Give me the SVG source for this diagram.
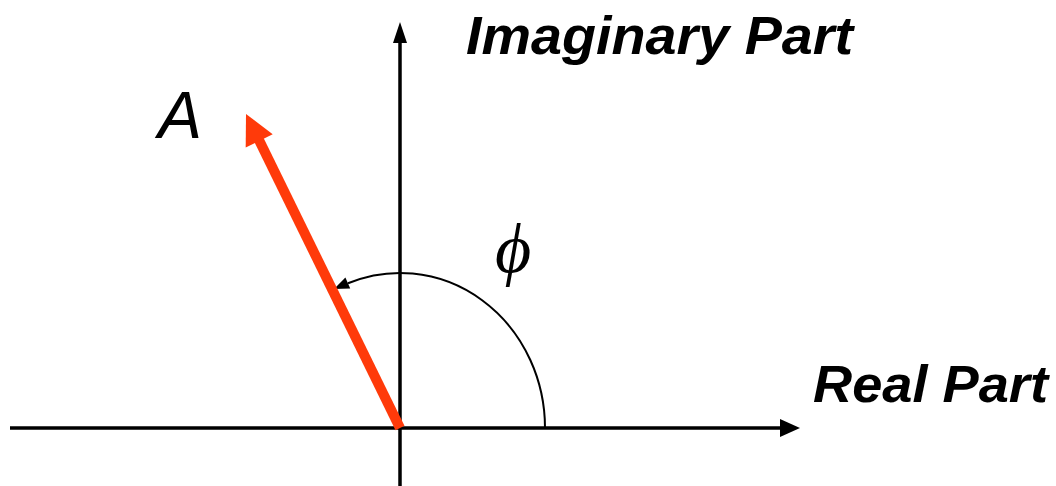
<svg xmlns="http://www.w3.org/2000/svg" width="1056" height="486" viewBox="0 0 1056 486">
<style>
.axis{stroke:#000;stroke-width:3.5;fill:none}
.head{fill:#000}
.lbl{font-family:"Liberation Sans",Arial,sans-serif;font-style:italic;font-weight:bold;fill:#000}
.vec{stroke:#FF3A0A;stroke-width:10;fill:none}
</style>
<rect width="1056" height="486" fill="#fff"/>
<g id="connectors">
  <line class="axis" x1="10" y1="428" x2="783" y2="428"/>
  <polygon class="head" points="800,428 780,419 780,437"/>
  <line class="axis" x1="400" y1="486" x2="400" y2="40"/>
  <polygon class="head" points="400,22 393,43 407,43"/>
  <path d="M545,428 A145,155 0 0 0 348,283.3" fill="none" stroke="#000" stroke-width="2"/>
  <polygon class="head" points="334,289 350.2,288.5 345.4,277.5"/>
  <line class="vec" x1="400" y1="428" x2="258" y2="138"/>
  <polygon fill="#FF3A0A" points="246,114 272.7,134.3 245.7,147.5"/>
</g>
<g id="imaginary-label">
  <text class="lbl" x="466" y="54" font-size="54" textLength="387" lengthAdjust="spacingAndGlyphs">Imaginary Part</text>
</g>
<g id="real-label">
  <text class="lbl" x="813" y="402" font-size="52" textLength="235" lengthAdjust="spacingAndGlyphs">Real Part</text>
</g>
<g id="vector-label">
  <text x="158" y="138" font-family="Liberation Sans,Arial,sans-serif" font-style="italic" font-size="66" fill="#000">A</text>
</g>
<g id="angle-label">
  <text x="495" y="272" font-family="Liberation Serif,Times New Roman,serif" font-style="italic" font-size="70" fill="#000">ϕ</text>
</g>
</svg>
